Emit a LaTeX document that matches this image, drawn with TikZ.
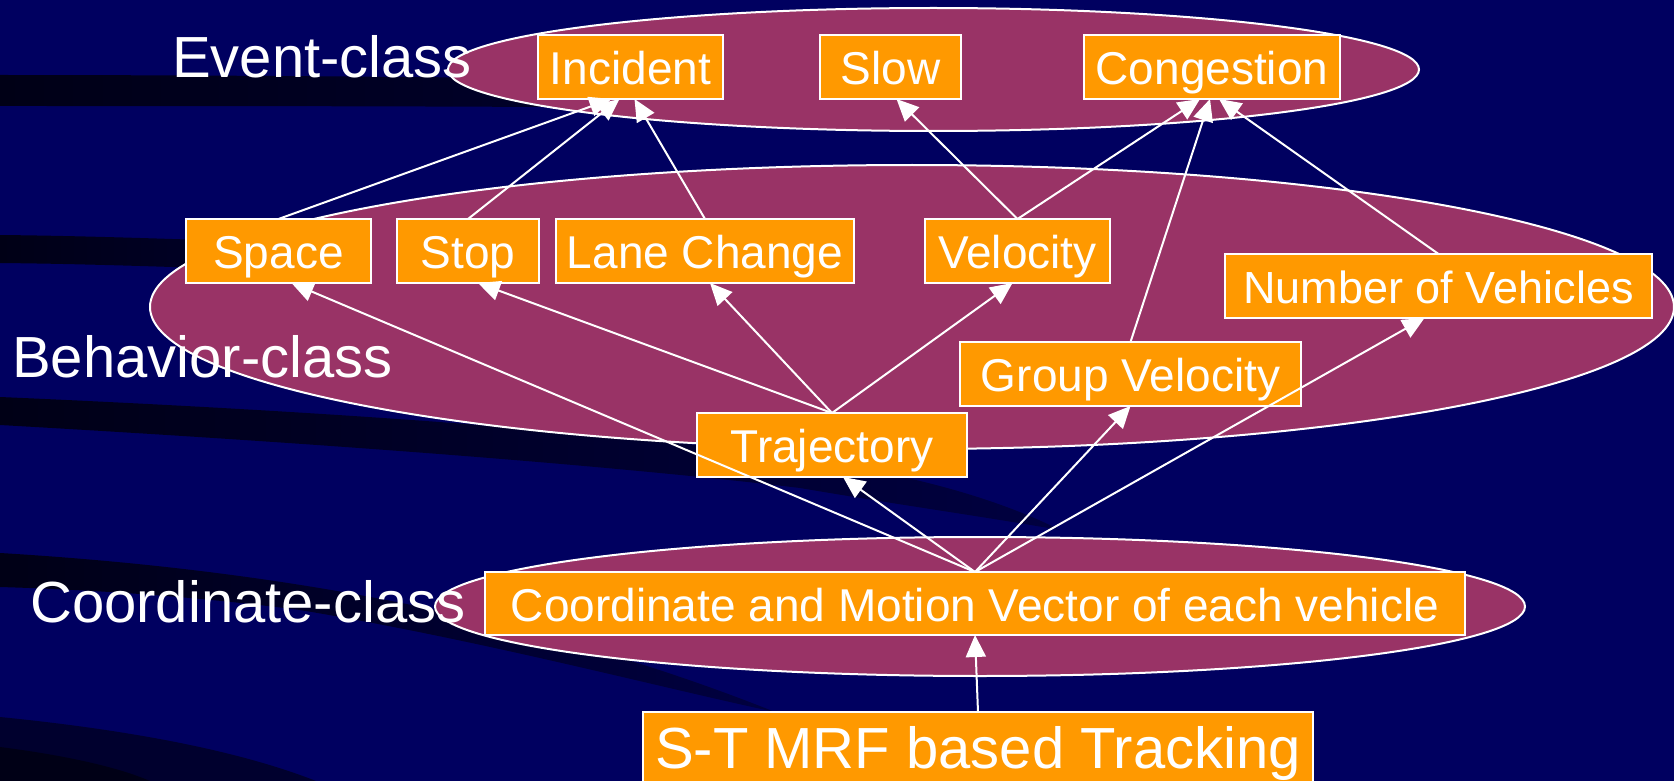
\documentclass[tikz,border=0pt]{standalone}
\usepackage{fontspec}
\setmainfont{Liberation Sans}
\usetikzlibrary{arrows.meta,calc}
\definecolor{navy}{HTML}{000060}
\definecolor{banddark}{HTML}{000016}
\definecolor{bandmid}{HTML}{00002E}
\definecolor{bandfade}{HTML}{000040}
\definecolor{plum}{HTML}{993366}
\definecolor{amber}{HTML}{FF9900}

\begin{document}
\begin{tikzpicture}[x=1pt,y=-1pt,
  layer/.style={fill=plum,draw=white,line width=2pt},
  box/.style={fill=amber,draw=white,line width=1.5pt,text=white,
    inner sep=0pt,outer sep=0pt,minimum height=64pt,
    text height=35pt,text depth=0pt,font=\fontsize{46}{50}\selectfont},
  classlabel/.style={text=white,anchor=base west,inner sep=0pt,
    font=\fontsize{58}{64}\selectfont},
  link/.style={draw=white,line width=2pt,-{Triangle[length=22pt,width=20pt]}},
]
% slide background
\fill[navy] (0,0) rectangle (1674,781);
\useasboundingbox (0,0) rectangle (1674,781);

% dark sweeping bands of the backdrop
\shade[left color=banddark,right color=bandmid]
  (0,75) .. controls (200,75) and (450,77) .. (700,80)
  -- (700,108) .. controls (450,106) and (200,106) .. (0,106) -- cycle;
\shade[left color=banddark,right color=bandmid]
  (0,235) .. controls (100,236) and (200,240) .. (320,244)
  -- (320,272) .. controls (200,268) and (100,264) .. (0,263) -- cycle;
\shade[left color=banddark,right color=bandfade]
  (0,397) .. controls (300,410) and (600,430) .. (800,458)
  .. controls (920,476) and (1000,500) .. (1060,530)
  .. controls (980,516) and (900,505) .. (800,488)
  .. controls (600,464) and (300,442) .. (0,425) -- cycle;
\shade[left color=banddark,right color=bandfade]
  (0,553) .. controls (250,568) and (520,610) .. (775,712)
  .. controls (650,685) and (480,640) .. (300,610)
  .. controls (200,597) and (100,590) .. (0,587) -- cycle;
\fill[bandmid]
  (0,717) .. controls (150,732) and (250,755) .. (316,781) -- (0,781) -- cycle;
\fill[banddark]
  (0,747) .. controls (70,756) and (120,768) .. (150,781) -- (0,781) -- cycle;

% class layers
\draw[layer] (912,307) ellipse [x radius=762, y radius=142];
\draw[layer] (933.5,69.5) ellipse [x radius=485.5, y radius=61.5];
\draw[layer] (980,606.5) ellipse [x radius=545, y radius=69.5];

% layer captions
\node[classlabel] (evlab) at (172,78) {Event-class};
\node[classlabel] (bhlab) at (12,377) {Behavior-class};
\node[classlabel] (colab) at (30,622) {Coordinate-class};

% event-class nodes
\node[box,minimum width=185pt] (inc)  at (630.5,67) {Incident};
\node[box,minimum width=141pt] (slow) at (890.5,67) {Slow};
\node[box,minimum width=256pt] (cong) at (1212,67) {Congestion};

% behavior-class nodes
\node[box,minimum width=185pt] (space) at (278.5,251) {Space};
\node[box,minimum width=142pt] (stop)  at (468,251) {Stop};
\node[box,minimum width=298pt] (lane)  at (705,251) {Lane Change};
\node[box,minimum width=185pt] (vel)   at (1017.5,251) {Velocity};
\node[box,minimum width=427pt,font=\fontsize{45}{50}\selectfont] (nov) at (1438.5,286) {Number of Vehicles};
\node[box,minimum width=341pt] (gv)    at (1130.5,374) {Group Velocity};
\node[box,minimum width=270pt] (traj)  at (832,445) {Trajectory};

% coordinate-class node and tracking source
\node[box,minimum width=980pt,minimum height=63pt] (coord) at (975,603.5) {Coordinate and Motion Vector of each vehicle};
\node[box,minimum width=670pt,minimum height=0pt,inner ysep=15pt,
  text height=41.5pt,font=\fontsize{58}{64}\selectfont,anchor=north] (st) at (978,712) {S-T MRF based Tracking};

% behavior -> event
\draw[link] (space.north) -- ($(inc.south)+(-19,0)$);
\draw[link] (stop.north)  -- ($(inc.south)+(-11,0)$);
\draw[link] (lane.north)  -- ($(inc.south)+(4,0)$);
\draw[link] (vel.north)   -- ($(slow.south)+(6,0)$);
\draw[link] (vel.north)   -- ($(cong.south)+(-12,0)$);
\draw[link] (gv.north)    -- ($(cong.south)+(-2,0)$);
\draw[link] (nov.north)   -- ($(cong.south)+(7,0)$);

% trajectory -> behaviors
\draw[link] (traj.north) -- ($(stop.south)+(10,0)$);
\draw[link] (traj.north) -- ($(lane.south)+(5,0)$);
\draw[link] (traj.north) -- ($(vel.south)+(-5,0)$);

% coordinates -> behaviors
\draw[link] (coord.north) -- ($(space.south)+(13,0)$);
\draw[link] (coord.north) -- ($(traj.south)+(11,0)$);
\draw[link] (coord.north) -- (gv.south);
\draw[link] (coord.north) -- ($(nov.south)+(-14,0)$);

% tracking -> coordinates
\draw[link] (st.north) -- (coord.south);
\end{tikzpicture}
\end{document}
